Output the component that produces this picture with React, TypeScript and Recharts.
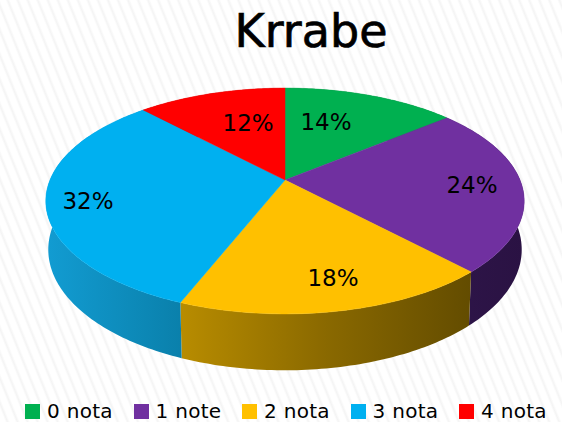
import { PieChart, Pie, Legend } from 'recharts'

const categories = ['0 nota', '1 note', '2 nota', '3 nota', '4 nota']
const shares = [14, 24, 18, 32, 12]
const colors = ['#00B050', '#7030A0', '#FFC000', '#00B0F0', '#FF0000']
const wallFills = ['#00692f', 'url(#wallPurple)', 'url(#wallGold)', 'url(#wallBlue)', '#990000']

const tableData = categories.map((name, i) => ({ name, value: shares[i], fill: colors[i] }))

// fake 3D: the library gives the angles, this projects them on a tilted disc
const TILT = 0.186
const FLATTEN = 109 / 235
const DROP = 47.8
const SHRINK = 0.01

const project = (cx: number, cy: number, r: number, angle: number, fraction = 1, lower = false) => {
  const rad = (angle * Math.PI) / 180
  const u = Math.cos(rad) * fraction
  const v = Math.sin(rad) * fraction
  const w = 1 + TILT * v + (lower ? SHRINK : 0)
  return {
    x: cx + (r * u) / w,
    y: cy + (-r * FLATTEN * v + (lower ? DROP : 0)) / w,
  }
}

const arcPoints = (props: any, lower = false) => {
  const { cx, cy, outerRadius, startAngle, endAngle } = props
  const steps = Math.max(2, Math.ceil(Math.abs(endAngle - startAngle)))
  const pts = []
  for (let i = 0; i <= steps; i++) {
    const a = startAngle + ((endAngle - startAngle) * i) / steps
    pts.push(project(cx, cy, outerRadius, a, 1, lower))
  }
  return pts
}

const toPath = (pts: { x: number; y: number }[]) =>
  'M' + pts.map((p) => `${p.x.toFixed(2)},${p.y.toFixed(2)}`).join('L') + 'Z'

const TopSlice = (props: any) => {
  const apex = { x: props.cx, y: props.cy }
  return <path d={toPath([apex, ...arcPoints(props)])} fill={props.fill} stroke={props.fill} strokeWidth={0.5} />
}

// wall is one quad per degree so the sides of the disc join up
const WallSlice = (props: any) => {
  const top = arcPoints(props)
  const bottom = arcPoints(props, true)
  let d = ''
  for (let i = 0; i < top.length - 1; i++) {
    d += toPath([top[i], top[i + 1], bottom[i + 1], bottom[i]])
  }
  return <path d={d} fill={wallFills[props.index]} stroke="none" />
}

// label spot per slice: distance from the centre and a small turn, as in the picture
const labelSpots = [
  { r: 0.62, turn: 7 },
  { r: 0.79, turn: 0 },
  { r: 0.79, turn: 2 },
  { r: 0.83, turn: 2 },
  { r: 0.61, turn: -5 },
]

const renderPercent = (props: any) => {
  const { cx, cy, outerRadius, midAngle, percent, index } = props
  const spot = labelSpots[index]
  const p = project(cx, cy, outerRadius, midAngle + spot.turn, spot.r)
  return (
    <text
      key={index}
      x={p.x}
      y={p.y}
      textAnchor="middle"
      dominantBaseline="central"
      fontSize={23}
      fill="#000"
      fontFamily="DejaVu Sans"
    >
      {`${Math.round(percent * 100)}%`}
    </text>
  )
}

// both pies feed the legend payload, so it is drawn from the table
const renderLegend = () => (
  <div style={{ position: 'relative', height: 22 }}>
    {tableData.map((item, i) => (
      <div
        key={item.name}
        style={{
          position: 'absolute',
          left: 25 + i * 108.5,
          top: 0,
          display: 'flex',
          alignItems: 'center',
          height: 22,
          lineHeight: '22px',
          whiteSpace: 'nowrap',
          fontFamily: 'DejaVu Sans',
          fontSize: 20,
          letterSpacing: 0.3,
          color: '#000',
        }}
      >
        <span style={{ width: 15, height: 15, background: item.fill, marginRight: 7, display: 'inline-block' }} />
        {item.name}
      </div>
    ))}
  </div>
)

export default function App() {
  return (
    <div
      style={{
        position: 'absolute',
        left: 0,
        top: 0,
        width: 562,
        height: 422,
        overflow: 'hidden',
        background: 'repeating-linear-gradient(68deg, #ffffff 0px, #ffffff 5px, #f4f4f4 7px, #ffffff 9.3px)',
      }}
    >
      <PieChart width={562} height={422} margin={{ top: 0, right: 0, bottom: 0, left: 0 }}>
        <defs>
          <linearGradient id="wallBlue" x1="0" y1="0" x2="1" y2="0">
            <stop offset="0" stopColor="#129CD2" />
            <stop offset="1" stopColor="#0A80AB" />
          </linearGradient>
          <linearGradient id="wallGold" x1="0" y1="0" x2="1" y2="0">
            <stop offset="0" stopColor="#B88C00" />
            <stop offset="0.5" stopColor="#8A6900" />
            <stop offset="1" stopColor="#634C00" />
          </linearGradient>
          <linearGradient id="wallPurple" x1="0" y1="0" x2="1" y2="0">
            <stop offset="0" stopColor="#2E1549" />
            <stop offset="1" stopColor="#2A1243" />
          </linearGradient>
        </defs>
        <Pie
          data={tableData}
          dataKey="value"
          nameKey="name"
          cx={285}
          cy={180}
          outerRadius={235}
          startAngle={90}
          endAngle={-270}
          stroke="none"
          legendType="none"
          shape={WallSlice}
          isAnimationActive={false}
        />
        <Pie
          data={tableData}
          dataKey="value"
          nameKey="name"
          cx={285}
          cy={180}
          outerRadius={235}
          startAngle={90}
          endAngle={-270}
          stroke="none"
          shape={TopSlice}
          label={renderPercent}
          labelLine={false}
          isAnimationActive={false}
        />
        <text
          x={311}
          y={31}
          textAnchor="middle"
          dominantBaseline="central"
          fontSize={46}
          fill="#000"
          stroke="#000"
          strokeWidth={0.7}
          fontFamily="DejaVu Sans"
        >
          Krrabe
        </text>
        <Legend content={renderLegend} wrapperStyle={{ left: 0, top: 400, width: 562, height: 22 }} />
      </PieChart>
    </div>
  )
}
